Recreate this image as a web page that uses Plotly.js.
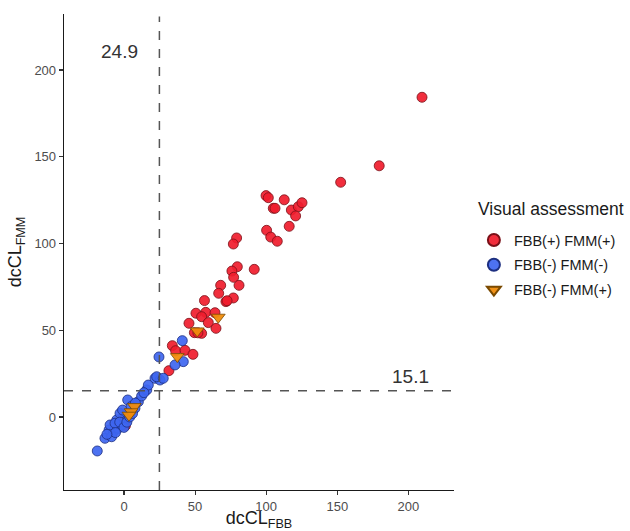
<!DOCTYPE html>
<html>
<head>
<meta charset="utf-8">
<script src="https://cdn.plot.ly/plotly-3.0.1.min.js"></script>
<style>html,body{margin:0;padding:0;background:#fff;}#chart{width:630px;height:531px;}</style>
</head>
<body>
<div id="chart"></div>
<script>
// Data
const redX = [209.6,179.5,152.4,99.9,101.5,112.7,105,106.2,117.7,122.6,125.2,120.7,116.2,100.3,103.2,107.8,79.2,76.9,79.7,75.9,77.1,91.6,80.9,68,66.6,76.9,71.7,72.5,56.6,50.6,57.5,54.6,64,45.7,59.3,64.7,49.5,54.6,52,34,36.3,42.9,48.5,31.6,1];
const redY = [184.3,144.8,135.3,127.6,126.4,125.2,120.3,120.3,119.3,121.2,123.5,115.9,109.9,107.6,103.7,101.3,103.2,99.7,86.6,84.1,80.5,85.1,75.9,75.9,71.3,68.6,66.5,67,67.1,59.8,60.3,57.8,60.1,54,54.4,51.1,48.6,48.2,48.5,41.1,38.2,38.4,36.1,26.7,-5];

const blueX = [-18.8,-13.4,-10.5,-7.5,-9.8,-5.1,-4,-1.6,-0.5,0.7,1.9,-2.8,2.6,10.1,12.4,16,17.1,21.8,25.3,7.7,-6.3,-8.7,-3,0,2,4,-1,5,8,6,-6,-12,14,24.6,41,41.7,35.9,23,27.6];
const blueY = [-19.6,-12.3,-7.5,-8.5,-4.6,-1.7,-6.5,-4.6,0.2,-1.7,2.1,2.1,9.8,8.8,12.1,15.6,18.4,22.3,21.3,5,-3.6,-11.4,-3,-6,-3,0,4,6,8,2,-9,-10,14,34.6,44,31.9,30,23.2,22.3];

const orangeX = [66.3,51.5,37.5,7.3,5,3.5];
const orangeY = [57.5,49.6,34.8,6,3,1];

const cutX = 24.9;
const cutY = 15.1;
const legendTitle = 'Visual assessment';
const legendNames = ['FBB(+) FMM(+)','FBB(-) FMM(-)','FBB(-) FMM(+)'];

const FONT = 'Arial, Liberation Sans, sans-serif';

const traces = [
  {x: redX, y: redY, type:'scatter', mode:'markers', name: legendNames[0], legendgroup:'a',
   marker:{symbol:'circle', size:10, color:'rgba(240,28,45,0.92)', line:{color:'#7a1018', width:0.8}}},
  {x: blueX, y: blueY, type:'scatter', mode:'markers', name: legendNames[1], legendgroup:'b',
   marker:{symbol:'circle', size:10, color:'rgba(62,102,240,0.92)', line:{color:'#1d2f80', width:0.8}}},
  {x: orangeX, y: orangeY, type:'scatter', mode:'markers', name: legendNames[2], legendgroup:'c',
   marker:{symbol:'triangle-down', size:12, color:'rgba(240,140,12,0.95)', line:{color:'#7a4a00', width:0.8}}}
];

const axisCommon = {
  showgrid:false, zeroline:false, showline:true, linecolor:'#1a1a1a', linewidth:1.3,
  ticks:'outside', ticklen:4, tickwidth:1.1, tickcolor:'#333',
  tickfont:{family:FONT, size:13, color:'#4d4d4d'}
};

const layout = {
  width:630, height:531,
  margin:{l:64, r:176, t:14, b:41, autoexpand:false},
  paper_bgcolor:'#fff', plot_bgcolor:'#fff',
  xaxis: Object.assign({}, axisCommon, {range:[-42.2,232.1], tickvals:[0,50,100,150,200],
    title:{text:'dcCL<sub>FBB</sub>', standoff:10, font:{family:FONT, size:18, color:'#1a1a1a'}}}),
  yaxis: Object.assign({}, axisCommon, {range:[-42.1,232.3], tickvals:[0,50,100,150,200],
    title:{text:'dcCL<sub>FMM</sub>', standoff:8, font:{family:FONT, size:18, color:'#1a1a1a'}}}),
  shapes:[
    {type:'line', xref:'x', yref:'paper', x0:cutX, x1:cutX, y0:0, y1:0.995, line:{color:'#555', width:1.5, dash:'dash'}},
    {type:'line', xref:'paper', yref:'y', x0:0, x1:1, y0:cutY, y1:cutY, line:{color:'#555', width:1.5, dash:'dash'}}
  ],
  annotations:[
    {x:-3, y:210.4, xref:'x', yref:'y', text:String(cutX), showarrow:false, font:{family:FONT, size:19, color:'#333'}},
    {x:201.8, y:23.1, xref:'x', yref:'y', text:String(cutY), showarrow:false, font:{family:FONT, size:19, color:'#333'}},
    {x:1.0564, y:0.5903, xref:'paper', yref:'paper', xanchor:'left', yanchor:'middle', text:legendTitle, showarrow:false,
     font:{family:FONT, size:17.5, color:'#1a1a1a'}}
  ],
  showlegend:true,
  legend:{x:1.051, xanchor:'left', y:0.5588, yanchor:'top', traceorder:'grouped',
    font:{family:FONT, size:14.5, color:'#1a1a1a'},
    itemsizing:'constant', tracegroupgap:3, bgcolor:'rgba(0,0,0,0)'}
};

Plotly.newPlot('chart', traces, layout, {displayModeBar:false, staticPlot:true});
</script>
</body>
</html>
